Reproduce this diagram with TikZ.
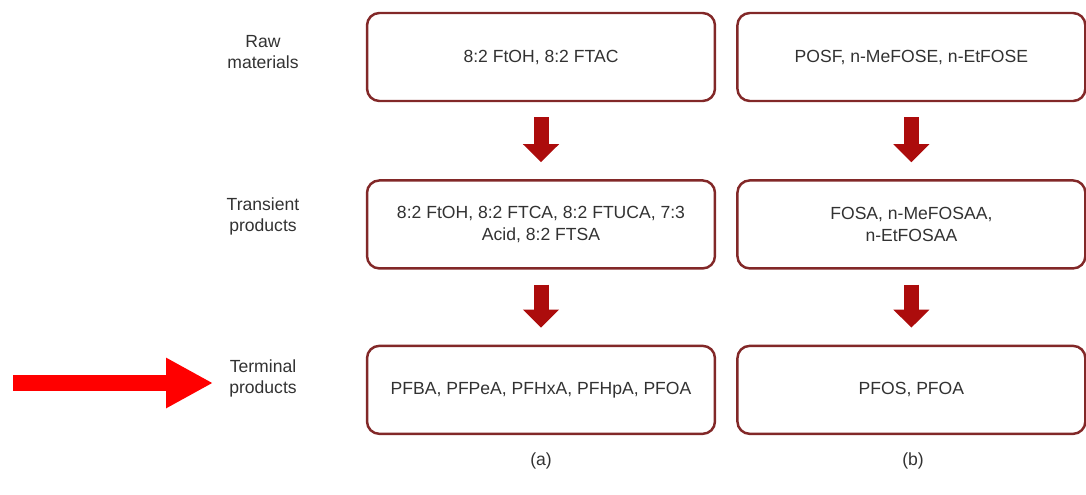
\documentclass[tikz,border=0pt]{standalone}
\usepackage{fontspec}
\setmainfont{Liberation Sans}
\usepackage{tikz}
\usetikzlibrary{positioning,arrows.meta}
\definecolor{pfborder}{RGB}{130,40,40}
\definecolor{pfarrow}{RGB}{172,12,12}
\definecolor{pfred}{RGB}{255,0,0}
\definecolor{pftext}{RGB}{50,50,50}
\tikzset{
  box/.style={draw=pfborder, line width=1.4pt, rounded corners=7pt, fill=white,
              minimum width=6.96cm, minimum height=1.76cm, inner sep=0pt,
              align=center, text=pftext, font=\fontsize{10}{12.5}\selectfont},
  stage/.style={align=center, text=pftext, font=\fontsize{10}{12}\selectfont},
  down/.style={-{Triangle[length=0.36cm,width=0.7cm]}, line width=0.3cm,
               color=pfarrow, shorten <=0.3cm, shorten >=0.34cm},
  pointer/.style={-{Triangle[length=0.94cm,width=0.94cm]}, line width=0.32cm,
                  color=pfred, shorten >=0.2cm},
}
\begin{document}
\begin{tikzpicture}[x=0.02cm, y=-0.02cm]
\useasboundingbox (0,0) rectangle (1086,494);
% stage labels
\node[stage] (raw) at (263,52) {Raw\\materials};
\node[stage] (trans) at (263,216) {Transient\\products};
\node[stage] (term) at (263,378) {Terminal\\products};
% column (a)
\node[box] (a1) at (541,57) {8:2 FtOH, 8:2 FTAC};
\node[box, below=1.54cm of a1] (a2) {8:2 FtOH, 8:2 FTCA, 8:2 FTUCA, 7:3\\Acid, 8:2 FTSA};
\node[box, below=1.5cm of a2] (a3) {PFBA, PFPeA, PFHxA, PFHpA, PFOA};
% column (b)
\node[box, right=0.4cm of a1] (b1) {POSF, n-MeFOSE, n-EtFOSE};
\node[box, right=0.4cm of a2] (b2) {FOSA, n-MeFOSAA,\\n-EtFOSAA};
\node[box, right=0.4cm of a3] (b3) {PFOS, PFOA};
\draw[down] (a1) -- (a2);
\draw[down] (a2) -- (a3);
\draw[down] (b1) -- (b2);
\draw[down] (b2) -- (b3);
% highlight
\coordinate (ptail) at (13,383);
\draw[pointer] (ptail) -- (ptail -| term.west);
\node[stage] (capa) at (541,461) {(a)};
\node[stage] (capb) at (913,461) {(b)};
\end{tikzpicture}
\end{document}
